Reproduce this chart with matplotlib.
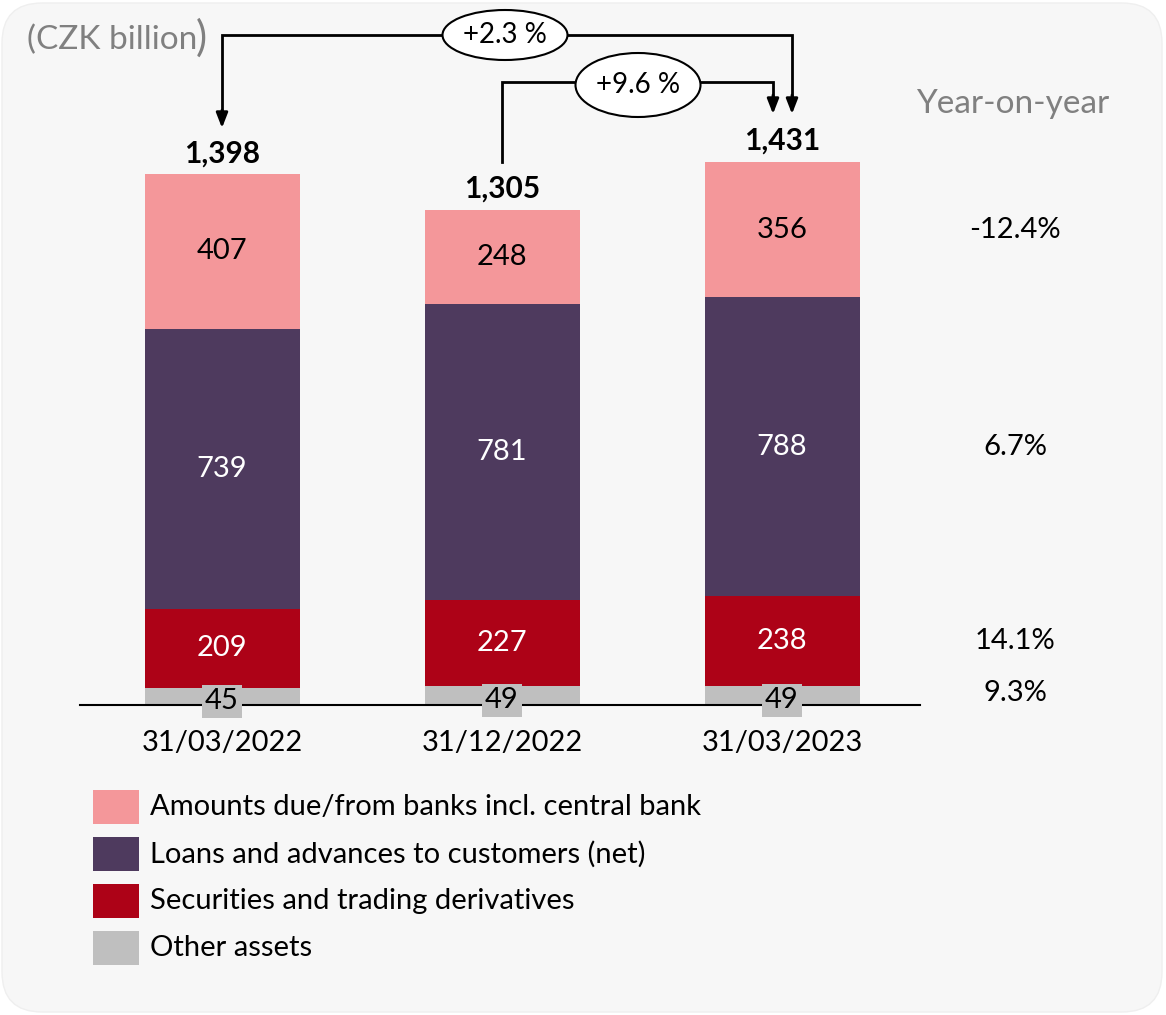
import matplotlib
matplotlib.use("Agg")
import matplotlib.pyplot as plt
from matplotlib.patches import FancyBboxPatch, Rectangle, Ellipse
from matplotlib.transforms import IdentityTransform

plt.rcParams['font.family'] = ['Lato', 'DejaVu Sans']

# ---- data ----
dates = ["31/03/2022", "31/12/2022", "31/03/2023"]
series_names = ["Other assets", "Securities and trading derivatives",
                "Loans and advances to customers (net)",
                "Amounts due/from banks incl. central bank"]
other = [45, 49, 49]
securities = [209, 227, 238]
loans = [739, 781, 788]
amounts = [407, 248, 356]
totals = [1398, 1305, 1431]
total_labels = ["1,398", "1,305", "1,431"]
yoy = ["9.3%", "14.1%", "6.7%", "-12.4%"]
growth_labels = ["+2.3 %", "+9.6 %"]

colors = ["#BFBFBF", "#AD0217", "#4E3A5E", "#F4979A"]
text_colors = ["black", "white", "white", "black"]

FS = 21

W, H = 1166, 1015
fig = plt.figure(figsize=(W / 100, H / 100), dpi=100)
fig.patch.set_facecolor("white")
ax = fig.add_axes([0, 0, 1, 1])
ax.set_facecolor("none")
ax.axis("off")

PXU = 280.0          # px per category
PYU = 530.0 / 1398   # px per CZK bn
X0, Y0 = 222, 705
ax.set_xlim(-X0 / PXU, (W - X0) / PXU)
ax.set_ylim(-(H - Y0) / PYU, Y0 / PYU)

def px2x(p):
    return (p - X0) / PXU

def px2y(p):
    return (Y0 - p) / PYU

# background panel (display pixels)
bg = FancyBboxPatch((2, 3), W - 6, H - 6,
                    boxstyle="round,pad=0,rounding_size=40",
                    transform=IdentityTransform(),
                    fc="#F7F7F7", ec="#EFEFEF", lw=1, zorder=0, clip_on=False)
ax.add_patch(bg)

x = list(range(len(dates)))
bw = 155 / PXU
stack = [other, securities, loans, amounts]
bottom = [0, 0, 0]
for k, vals in enumerate(stack):
    ax.bar(x, vals, bw, bottom=bottom, color=colors[k], edgecolor="none",
           zorder=2)
    for i, v in enumerate(vals):
        if k == 0:
            ax.text(x[i], bottom[i] + v / 2 - 12, str(v), ha="center",
                    va="center", fontsize=FS, color="black", zorder=5,
                    bbox=dict(boxstyle="square,pad=0.12", fc="#BFBFBF",
                              ec="none"))
        else:
            ax.text(x[i], bottom[i] + v / 2, str(v), ha="center",
                    va="center", fontsize=FS, color=text_colors[k], zorder=4)
    bottom = [b + v for b, v in zip(bottom, vals)]

# baseline
ax.plot([px2x(80), px2x(920)], [0, 0], color="black", lw=1.5, zorder=3)

# category labels
for i, d in enumerate(dates):
    ax.text(x[i], px2y(743), d, ha="center", va="center", fontsize=FS,
            color="black")

# totals
for i, t in enumerate(totals):
    ax.text(x[i], t + 20, total_labels[i], ha="center", va="bottom",
            fontsize=21.5, fontweight="bold", color="black")

# yoy column
ax.text(px2x(1013), px2y(104), "Year-on-year", ha="center", va="center",
        fontsize=24, color="#808080")
seg_bottom = 0
for k, vals in enumerate(stack):
    v = vals[2]
    yc = seg_bottom + v / 2
    if k == 0:
        yc = px2y(693)
    ax.text(px2x(1015), yc, yoy[k], ha="center", va="center", fontsize=FS,
            color="black")
    seg_bottom += v

# unit label
ax.text(px2x(27), px2y(40), "(CZK billion", ha="left", va="center",
        fontsize=24, color="#808080")
ax.text(px2x(196), px2y(38), ")", ha="left", va="center",
        fontsize=30, color="#808080")

# growth arrows
lw = 2
# +2.3 % : from bar 0 to bar 2
yA = px2y(35)
xl, xr = x[0], px2x(792)
ax.plot([xl, xl, xr, xr], [px2y(115), yA, yA, px2y(100)], color="black",
        lw=lw, zorder=3, solid_joinstyle="miter")
for xa, ys, ye in [(xl, px2y(110), px2y(128)), (xr, px2y(95), px2y(114))]:
    ax.annotate("", xy=(xa, ye), xytext=(xa, ys),
                arrowprops=dict(arrowstyle="-|>,head_width=0.35,head_length=0.9",
                                color="black", lw=lw, shrinkA=0, shrinkB=0),
                zorder=3)
e1 = Ellipse((px2x(505), yA), 125 / PXU, 50 / PYU, fc="white", ec="black",
             lw=1.5, zorder=4)
ax.add_patch(e1)
ax.text(px2x(505), yA, growth_labels[0], ha="center", va="center",
        fontsize=20, zorder=5)

# +9.6 % : from bar 1 to bar 2
yB = px2y(82)
xl2, xr2 = x[1], px2x(773)
ax.plot([xl2, xl2, xr2, xr2], [px2y(162), yB, yB, px2y(100)], color="black",
        lw=lw, zorder=3, solid_joinstyle="miter")
ax.annotate("", xy=(xr2, px2y(114)), xytext=(xr2, px2y(95)),
            arrowprops=dict(arrowstyle="-|>,head_width=0.35,head_length=0.9",
                            color="black", lw=lw, shrinkA=0, shrinkB=0),
            zorder=3)
e2 = Ellipse((px2x(638), px2y(85)), 125 / PXU, 64 / PYU, fc="white",
             ec="black", lw=1.5, zorder=4)
ax.add_patch(e2)
ax.text(px2x(638), px2y(85), growth_labels[1], ha="center", va="center",
        fontsize=20, zorder=5)

# legend (top to bottom)
leg_order = [3, 2, 1, 0]
for r, k in enumerate(leg_order):
    yc = 807 + 47 * r
    ax.add_patch(Rectangle((px2x(93), px2y(yc + 17)), 46 / PXU, 34 / PYU,
                           fc=colors[k], ec="none", zorder=3))
    ax.text(px2x(150), px2y(yc), series_names[k], ha="left", va="center",
            fontsize=FS, color="black")

fig.savefig("out.png", dpi=100, facecolor="white")
